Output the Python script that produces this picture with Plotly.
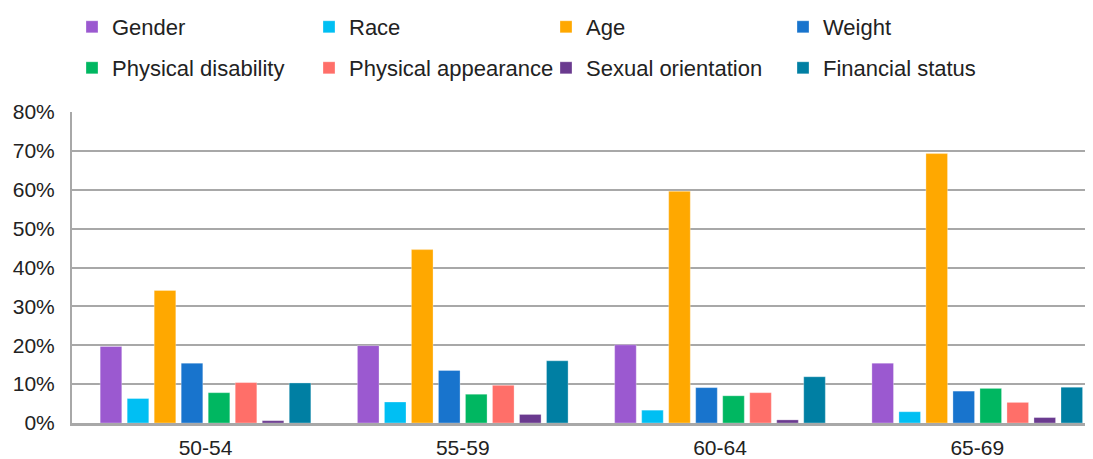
import plotly.graph_objects as go

# ── Data ──────────────────────────────────────────────────────────────────────

age_groups = ["50-54", "55-59", "60-64", "65-69"]

gender             = [0.197, 0.199, 0.201, 0.154]
race               = [0.063, 0.054, 0.033, 0.029]
age                = [0.341, 0.446, 0.596, 0.693]
weight             = [0.154, 0.135, 0.091, 0.082]
physical_disab     = [0.078, 0.074, 0.070, 0.089]
physical_appear    = [0.104, 0.097, 0.078, 0.053]
sexual_orientation = [0.006, 0.022, 0.008, 0.014]
financial_status   = [0.103, 0.160, 0.119, 0.092]

y_ticks = [0, 0.1, 0.2, 0.3, 0.4, 0.5, 0.6, 0.7, 0.8]

series = [
    ("Gender",              gender,             "#9B59D0"),
    ("Race",                race,               "#00BFF3"),
    ("Age",                 age,                "#FFA800"),
    ("Weight",              weight,             "#1874CD"),
    ("Physical disability", physical_disab,     "#00B761"),
    ("Physical appearance", physical_appear,    "#FF6F69"),
    ("Sexual orientation",  sexual_orientation, "#6A3A8F"),
    ("Financial status",    financial_status,   "#007FA3"),
]

FONT = "Liberation Sans, Arial, sans-serif"
GRID = "#A8A8A8"
TEXT = "#222222"

# page body has an 8px default margin, so the figure is a bit smaller than the window
W, H = 1085, 451

# ── Figure ────────────────────────────────────────────────────────────────────

fig = go.Figure()
for i, (name, values, color) in enumerate(series):
    fig.add_trace(go.Bar(
        x=age_groups,
        y=values,
        name=name,
        legend="legend" if i < 4 else "legend2",   # two rows of four
        marker=dict(color=color, line=dict(color="rgba(255,255,255,0.6)", width=0.5)),
    ))

legend_common = dict(
    orientation="h",
    xref="container", yref="container",
    x=64 / W, xanchor="left",
    yanchor="middle",
    entrywidth=192,
    itemwidth=30,
    font=dict(family=FONT, size=22, color=TEXT),
    traceorder="normal",
)

fig.update_layout(
    width=W,
    height=H,
    barmode="group",
    bargap=0.16,
    bargroupgap=0.2,
    plot_bgcolor="white",
    paper_bgcolor="white",
    margin=dict(l=64, r=0, t=104, b=36, autoexpand=False),
    font=dict(family=FONT, size=20, color=TEXT),
    legend=dict(legend_common, y=1 - 19 / H),
    legend2=dict(legend_common, y=1 - 60 / H),
    showlegend=True,
)

fig.update_xaxes(
    type="category",
    range=[-0.519, 3.45],
    showline=True, linecolor=GRID, linewidth=3,
    showgrid=False,
    ticks="", ticklabelstandoff=4,
    automargin=False,
    tickfont=dict(size=21, color=TEXT),
)
fig.update_yaxes(
    range=[0, 0.8],
    tickvals=y_ticks,
    tickformat=".0%",
    showline=True, linecolor=GRID, linewidth=2,
    showgrid=True, gridcolor=GRID, gridwidth=1.5,
    zeroline=False,
    ticks="", ticklabelstandoff=11,
    automargin=False,
    tickfont=dict(size=21, color=TEXT),
)

fig.write_html("out.html")
